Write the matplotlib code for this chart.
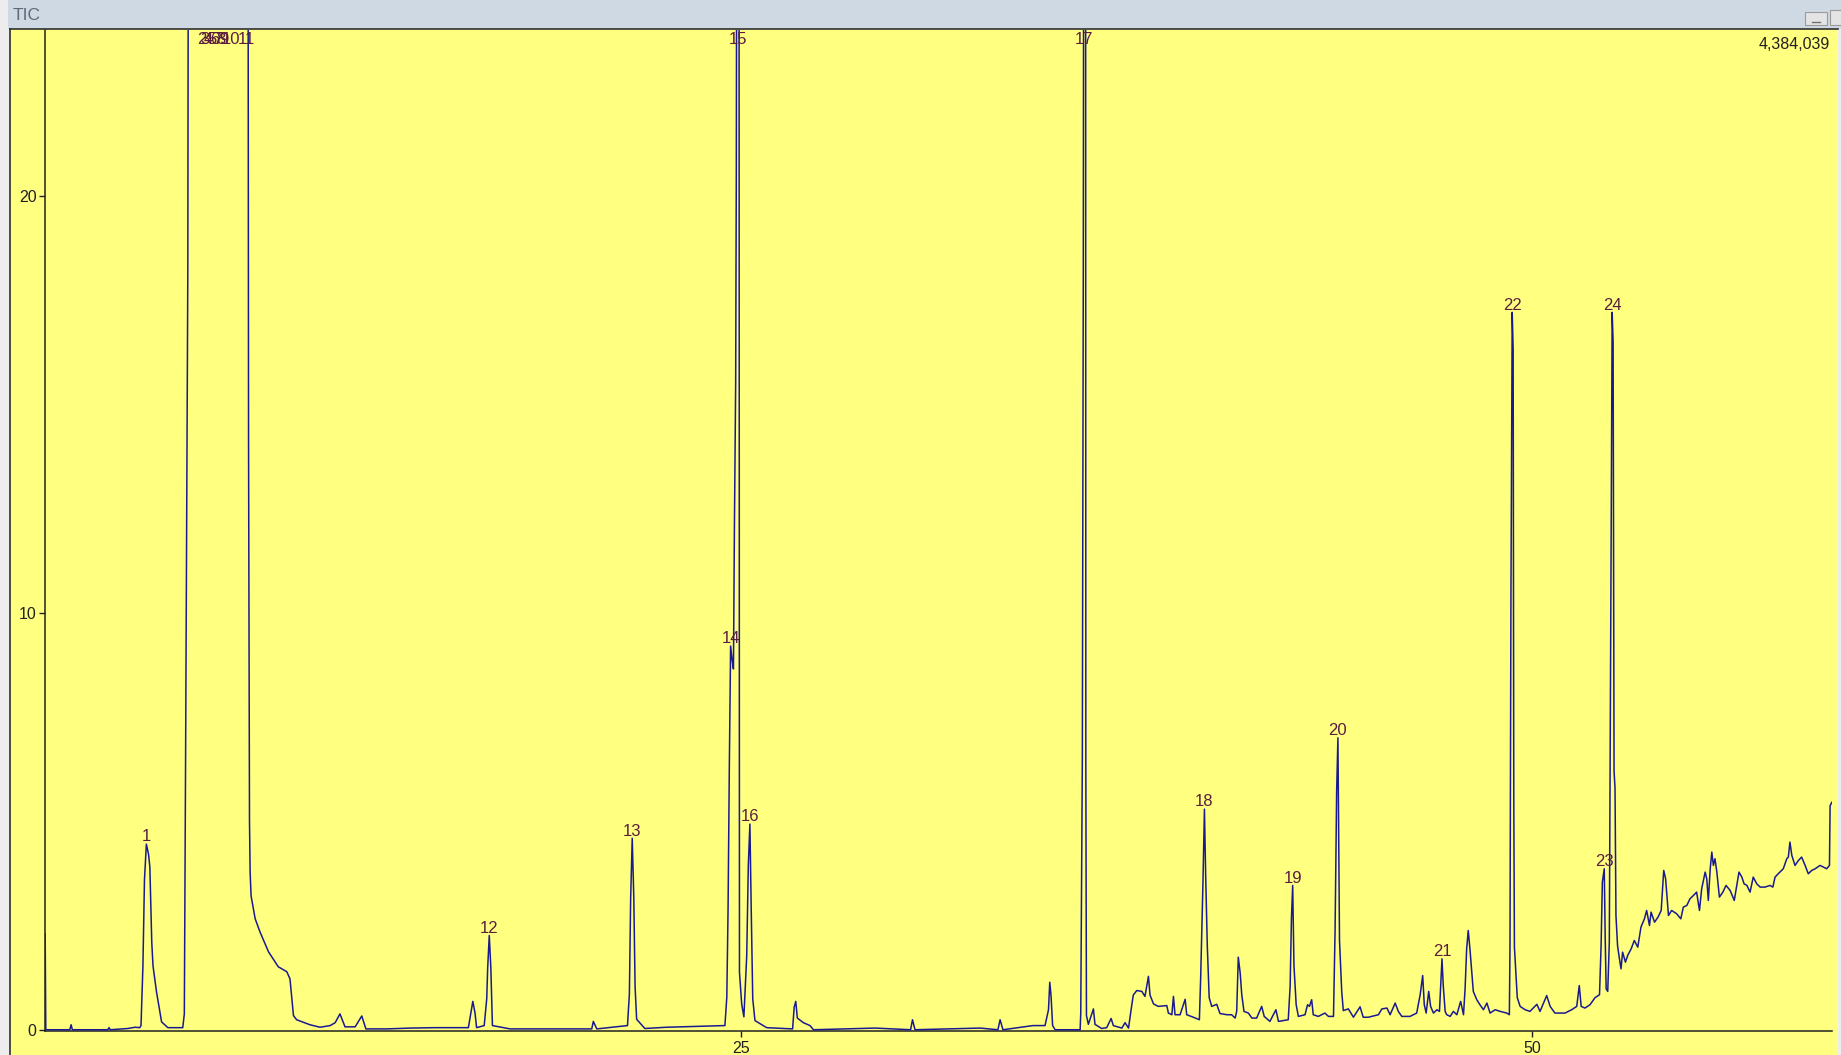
import numpy as np
import matplotlib.pyplot as plt
from matplotlib.patches import Rectangle
from matplotlib.lines import Line2D

plt.rcParams['font.family'] = ['Liberation Sans', 'DejaVu Sans']

# retention time (min) / TIC intensity (40 = off scale)
ret_time = [
    3.00, 3.02, 3.78, 3.82, 3.86, 4.98, 5.02, 5.06, 5.62, 5.84,
    5.99, 6.03, 6.09, 6.14, 6.20, 6.27, 6.31, 6.34, 6.37, 6.41,
    6.52, 6.68, 6.88, 7.35, 7.40, 7.44, 7.51, 7.55, 9.40, 9.43,
    9.46, 9.48, 9.51, 9.64, 9.79, 10.06, 10.37, 10.64, 10.74, 10.85,
    10.95, 11.37, 11.69, 12.01, 12.17, 12.32, 12.48, 12.80, 13.01, 13.14,
    13.80, 14.54, 15.33, 16.38, 16.52, 16.59, 16.64, 16.88, 16.96, 16.99,
    17.04, 17.09, 17.14, 17.70, 20.28, 20.33, 20.44, 21.41, 21.47, 21.51,
    21.56, 21.61, 21.65, 21.70, 21.96, 22.65, 24.49, 24.55, 24.59, 24.63,
    24.67, 24.72, 24.76, 24.79, 24.83, 24.85, 24.89, 24.93, 24.95, 25.02,
    25.09, 25.18, 25.23, 25.28, 25.32, 25.37, 25.44, 25.81, 26.63, 26.68,
    26.73, 26.78, 26.97, 27.18, 27.29, 29.24, 30.36, 30.42, 30.50, 32.56,
    33.12, 33.19, 33.28, 34.23, 34.61, 34.72, 34.76, 34.80, 34.85, 34.93,
    35.72, 35.74, 35.79, 35.82, 35.85, 35.89, 35.90, 35.92, 35.98, 36.14,
    36.19, 36.40, 36.56, 36.70, 36.77, 37.04, 37.14, 37.25, 37.32, 37.40,
    37.51, 37.67, 37.77, 37.83, 37.88, 37.93, 38.04, 38.19, 38.46, 38.51,
    38.62, 38.67, 38.72, 38.88, 39.04, 39.09, 39.30, 39.49, 39.53, 39.60,
    39.65, 39.69, 39.74, 39.80, 39.88, 40.04, 40.14, 40.36, 40.51, 40.62,
    40.67, 40.72, 40.78, 40.83, 40.90, 41.04, 41.15, 41.30, 41.46, 41.54,
    41.72, 41.91, 41.99, 42.30, 42.36, 42.40, 42.44, 42.48, 42.55, 42.62,
    42.83, 42.91, 42.97, 43.04, 43.09, 43.25, 43.46, 43.57, 43.73, 43.78,
    43.83, 43.87, 43.92, 43.99, 44.04, 44.20, 44.36, 44.57, 44.67, 44.83,
    45.15, 45.26, 45.42, 45.52, 45.68, 45.78, 45.89, 46.15, 46.36, 46.47,
    46.55, 46.60, 46.66, 46.74, 46.80, 46.89, 47.00, 47.08, 47.12, 47.16,
    47.20, 47.26, 47.31, 47.42, 47.52, 47.63, 47.75, 47.84, 47.89, 47.94,
    47.99, 48.05, 48.10, 48.15, 48.26, 48.36, 48.47, 48.58, 48.68, 48.84,
    49.00, 49.21, 49.29, 49.31, 49.34, 49.38, 49.41, 49.43, 49.45, 49.50,
    49.54, 49.63, 49.79, 49.94, 50.16, 50.26, 50.47, 50.58, 50.73, 50.89,
    51.05, 51.26, 51.42, 51.50, 51.56, 51.68, 51.84, 52.00, 52.14, 52.19,
    52.23, 52.29, 52.32, 52.35, 52.40, 52.45, 52.49, 52.54, 52.57, 52.60,
    52.63, 52.66, 52.71, 52.77, 52.82, 52.87, 52.96, 53.03, 53.14, 53.24,
    53.35, 53.45, 53.56, 53.63, 53.72, 53.77, 53.88, 53.99, 54.09, 54.17,
    54.23, 54.32, 54.42, 54.58, 54.71, 54.79, 54.90, 55.00, 55.11, 55.21,
    55.30, 55.37, 55.48, 55.53, 55.58, 55.64, 55.69, 55.74, 55.79, 55.85,
    55.93, 56.04, 56.14, 56.27, 56.40, 56.48, 56.55, 56.64, 56.71, 56.80,
    56.90, 57.00, 57.11, 57.22, 57.37, 57.53, 57.62, 57.69, 57.79, 57.95,
    58.06, 58.11, 58.16, 58.22, 58.32, 58.43, 58.53, 58.64, 58.74, 58.85,
    58.96, 59.11, 59.22, 59.32, 59.41, 59.43, 59.48,
]
intensity = [
    2.30, 0.00, 0.00, 0.12, 0.00, 0.00, 0.05, 0.00, 0.03, 0.06,
    0.05, 0.10, 1.50, 3.60, 4.45, 4.20, 3.90, 2.97, 2.10, 1.53,
    0.91, 0.19, 0.05, 0.05, 0.38, 6.57, 18.20, 40.0, 40.0, 14.20,
    5.00, 3.78, 3.21, 2.66, 2.35, 1.87, 1.51, 1.39, 1.22, 0.34,
    0.24, 0.12, 0.06, 0.10, 0.17, 0.38, 0.07, 0.07, 0.33, 0.02,
    0.02, 0.04, 0.05, 0.05, 0.68, 0.40, 0.05, 0.10, 0.74, 1.48,
    2.26, 1.48, 0.10, 0.02, 0.02, 0.20, 0.02, 0.10, 0.86, 3.14,
    4.59, 3.15, 1.03, 0.25, 0.03, 0.06, 0.10, 0.78, 2.90, 6.33,
    9.20, 8.85, 8.65, 12.0, 15.5, 20.5, 40.0, 40.0, 1.38, 0.62,
    0.31, 1.78, 3.94, 4.93, 2.97, 0.74, 0.22, 0.05, 0.02, 0.54,
    0.68, 0.28, 0.17, 0.10, 0.00, 0.04, 0.00, 0.24, 0.00, 0.04,
    0.00, 0.24, 0.00, 0.10, 0.10, 0.48, 1.14, 0.82, 0.10, 0.00,
    0.00, 0.40, 6.50, 18.10, 40.0, 40.0, 6.40, 0.34, 0.13, 0.50,
    0.13, 0.03, 0.05, 0.27, 0.10, 0.04, 0.17, 0.04, 0.42, 0.83,
    0.94, 0.92, 0.80, 1.06, 1.28, 0.83, 0.62, 0.56, 0.58, 0.40,
    0.36, 0.80, 0.36, 0.36, 0.73, 0.36, 0.30, 0.24, 1.22, 3.42,
    5.29, 3.66, 2.02, 0.77, 0.56, 0.61, 0.39, 0.36, 0.36, 0.28,
    0.44, 1.74, 1.36, 0.84, 0.44, 0.40, 0.28, 0.28, 0.56, 0.32,
    0.20, 0.48, 0.20, 0.24, 1.06, 2.66, 3.46, 1.54, 0.60, 0.32,
    0.36, 0.60, 0.56, 0.72, 0.36, 0.32, 0.40, 0.32, 0.32, 2.38,
    5.73, 7.00, 2.14, 0.92, 0.46, 0.50, 0.30, 0.55, 0.30, 0.30,
    0.36, 0.50, 0.52, 0.36, 0.64, 0.44, 0.32, 0.32, 0.40, 0.84,
    1.30, 0.60, 0.40, 0.92, 0.56, 0.40, 0.48, 0.44, 1.06, 1.70,
    1.06, 0.44, 0.36, 0.32, 0.44, 0.36, 0.68, 0.36, 0.98, 1.94,
    2.38, 1.88, 1.40, 0.92, 0.72, 0.60, 0.48, 0.64, 0.40, 0.48,
    0.44, 0.40, 0.36, 2.02, 10.40, 17.20, 16.30, 5.50, 1.98, 1.30,
    0.77, 0.56, 0.48, 0.44, 0.61, 0.44, 0.82, 0.56, 0.40, 0.40,
    0.40, 0.48, 0.56, 1.06, 0.56, 0.52, 0.60, 0.77, 0.84, 2.02,
    3.54, 3.86, 2.20, 0.98, 0.92, 2.10, 9.00, 17.20, 16.50, 6.20,
    5.80, 2.74, 2.02, 1.70, 1.46, 1.86, 1.62, 1.78, 1.94, 2.14,
    1.98, 2.46, 2.66, 2.86, 2.50, 2.82, 2.58, 2.70, 2.86, 3.82,
    3.62, 2.74, 2.86, 2.78, 2.66, 2.94, 2.98, 3.14, 3.22, 3.30,
    2.86, 3.38, 3.78, 3.62, 3.10, 3.86, 4.26, 3.94, 4.10, 3.78,
    3.18, 3.30, 3.46, 3.34, 3.10, 3.46, 3.78, 3.66, 3.50, 3.46,
    3.30, 3.66, 3.50, 3.42, 3.42, 3.46, 3.42, 3.66, 3.74, 3.86,
    4.10, 4.14, 4.50, 4.18, 3.94, 4.06, 4.14, 3.94, 3.74, 3.82,
    3.86, 3.94, 3.90, 3.86, 3.94, 5.37, 5.45,
]

peak_ids = [str(i) for i in range(1, 25)]
peak_times = [6.20, 7.96, 8.05, 8.15, 8.26, 8.35, 8.46, 8.56, 8.65, 8.88,
              9.35, 17.04, 21.56, 24.67, 24.89, 25.28, 35.85, 39.65, 42.44,
              43.87, 47.16, 49.38, 52.29, 52.54]

x_ticks = [25, 50]
y_ticks = [0, 10, 20]
max_label = '4,384,039'

W, H = 1841, 1055
fig = plt.figure(figsize=(W / 100, H / 100), dpi=100)
fig.patch.set_facecolor('#ededed')

# window title bar and yellow chart panel
fig.add_artist(Rectangle((8 / W, 1 - 29 / H), 1 - 8 / W, 29 / H, transform=fig.transFigure,
                         facecolor='#cfd9e4', edgecolor='none', zorder=0))
fig.add_artist(Rectangle((10 / W, 0), 1828 / W, 1 - 29 / H, transform=fig.transFigure,
                         facecolor='#ffff80', edgecolor='none', zorder=0))
fig.add_artist(Line2D([10 / W, 10 / W], [0, 1 - 29 / H], color='#303030', lw=1.2))
fig.add_artist(Line2D([10 / W, 1838 / W], [1 - 29 / H, 1 - 29 / H], color='#303030', lw=1.2))
fig.add_artist(Rectangle((1805 / W, 1 - 25 / H), 22 / W, 13 / H, transform=fig.transFigure,
                         facecolor='#e4e4e4', edgecolor='#9a9a9a', lw=0.8))
fig.add_artist(Line2D([1812 / W, 1820 / W], [1 - 22 / H, 1 - 22 / H], color='#707070', lw=1))
fig.add_artist(Rectangle((1830 / W, 1 - 25 / H), 12 / W, 15 / H, transform=fig.transFigure,
                         facecolor='#e4e4e4', edgecolor='#9a9a9a', lw=0.8))
fig.text(13 / W, 1 - 15 / H, 'TIC', color='#5f6a78', fontsize=12.5, va='center', ha='left')

ax = fig.add_axes([45 / W, 24 / H, 1787 / W, 1001 / H])
ax.set_facecolor('none')
ax.plot(ret_time, intensity, color='#1a1a90', lw=1.1, zorder=3)
ax.set_xlim(2.995, 59.49)
ax.set_ylim(-0.03, 23.97)

for s in ['top', 'right']:
    ax.spines[s].set_visible(False)
for s in ['left', 'bottom']:
    ax.spines[s].set_color('#202020')
    ax.spines[s].set_linewidth(1.1)

ax.set_xticks(x_ticks)
ax.set_yticks(y_ticks)
ax.tick_params(axis='both', direction='out', length=4, width=1, color='#202020',
               labelsize=11.5, labelcolor='#202020')
ax.tick_params(axis='y', pad=2)
ax.tick_params(axis='x', pad=3)

top = ax.get_ylim()[1]
for pid, pt in zip(peak_ids, peak_times):
    h = np.interp(pt, ret_time, intensity)
    if h >= top:
        ax.annotate(pid, (pt, top), xytext=(0, -1.5), textcoords='offset points',
                    ha='center', va='top', fontsize=12, color='#5a1e3c')
    else:
        ax.annotate(pid, (pt, h), xytext=(0, 2), textcoords='offset points',
                    ha='center', va='baseline', fontsize=12, color='#5a1e3c')

ax.text(0.9989, 0.993, max_label, transform=ax.transAxes, ha='right', va='top',
        fontsize=11.5, color='#202020')

fig.savefig('out.png', dpi=100, facecolor=fig.get_facecolor())
